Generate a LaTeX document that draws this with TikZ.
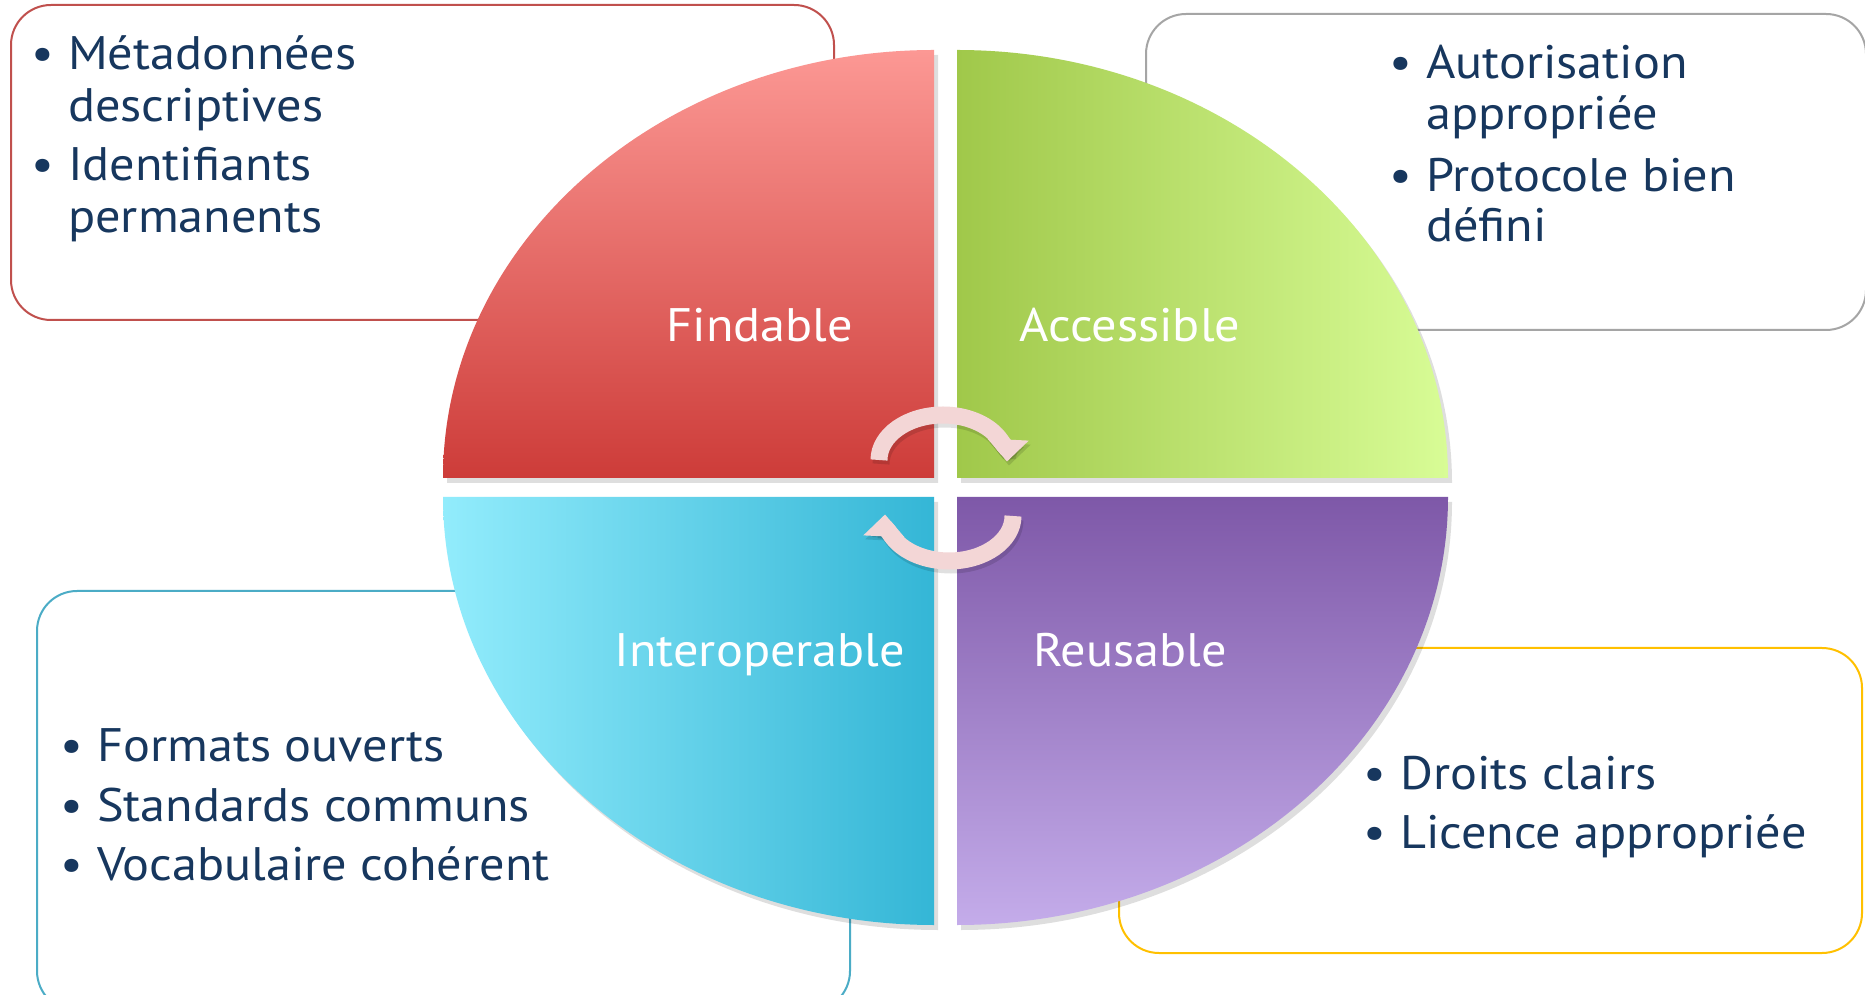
\documentclass[tikz,border=0pt]{standalone}
\usepackage{fontspec}
\setmainfont[FakeStretch=1.07]{PT Sans}
\usetikzlibrary{arrows.meta}
\definecolor{navy}{RGB}{23,55,94}
\definecolor{bred}{RGB}{192,80,77}
\definecolor{bgray}{RGB}{165,165,165}
\definecolor{bblue}{RGB}{75,172,198}
\definecolor{bgold}{RGB}{255,192,0}
\definecolor{Ftop}{RGB}{252,152,148}
\definecolor{Fbot}{RGB}{205,60,57}
\definecolor{Aleft}{RGB}{160,200,74}
\definecolor{Aright}{RGB}{216,252,150}
\definecolor{Ileft}{RGB}{146,236,252}
\definecolor{Iright}{RGB}{52,182,214}
\definecolor{Rtop}{RGB}{126,88,168}
\definecolor{Rbot}{RGB}{196,172,234}
\definecolor{apink}{RGB}{243,214,214}
\begin{document}
\begin{tikzpicture}[x=1pt,y=1pt,
  box/.style={rounded corners=40pt, line width=2pt, fill=white, inner sep=0pt, anchor=south west},
  txt/.style={anchor=base west, inner sep=0pt, text=navy, font=\fontsize{47}{52}\selectfont},
  lbl/.style={anchor=base, inner sep=0pt, text=white, font=\fontsize{47}{52}\selectfont},
  shad/.style={fill=black, opacity=0.13},
  cyc/.style={line width=17pt, draw=apink, -{Triangle[width=40pt,length=22pt]}},
  cycshad/.style={line width=17pt, draw=black, opacity=0.12, -{Triangle[width=40pt,length=22pt]}}]
\clip (0,0) rectangle (1865,994);
\fill[white] (0,0) rectangle (1865,994);
% text boxes
\node[box, draw=bred, minimum width=823pt, minimum height=315pt] (boxF) at (10,673) {};
\node[box, draw=bgray, minimum width=720pt, minimum height=316pt] (boxA) at (1145,663) {};
\node[box, draw=bblue, minimum width=813pt, minimum height=420pt] (boxI) at (36,-18) {};
\node[box, draw=bgold, minimum width=743pt, minimum height=305pt] (boxR) at (1118,40) {};
% shadows of quadrants
\begin{scope}[shift={(4,-5)}]
\fill[shad] (934,516) -- (443,516) arc[start angle=180,end angle=90,x radius=491,y radius=428] -- cycle;
\fill[shad] (957,516) -- (957,944) arc[start angle=90,end angle=0,x radius=491,y radius=428] -- cycle;
\fill[shad] (934,497) -- (934,69) arc[start angle=270,end angle=180,x radius=491,y radius=428] -- cycle;
\fill[shad] (957,497) -- (1448,497) arc[start angle=0,end angle=-90,x radius=491,y radius=428] -- cycle;
\end{scope}
% quadrants
\shade[top color=Ftop, bottom color=Fbot] (934,516) -- (443,516) arc[start angle=180,end angle=90,x radius=491,y radius=428] -- cycle;
\shade[left color=Aleft, right color=Aright] (957,516) -- (957,944) arc[start angle=90,end angle=0,x radius=491,y radius=428] -- cycle;
\shade[left color=Ileft, right color=Iright] (934,497) -- (934,69) arc[start angle=270,end angle=180,x radius=491,y radius=428] -- cycle;
\shade[top color=Rtop, bottom color=Rbot] (957,497) -- (1448,497) arc[start angle=0,end angle=-90,x radius=491,y radius=428] -- cycle;
% labels
\node[lbl] (lF) at (760,652) {Findable};
\node[lbl] (lA) at (1130,652) {Accessible};
\node[lbl] (lI) at (760,328) {Interoperable};
\node[lbl] (lR) at (1130,328) {Reusable};
% cycle arrows
\begin{scope}[shift={(2,-4)}]
\draw[cycshad] (879,534) arc[start angle=180,end angle=-2,x radius=64,y radius=45];
\draw[cycshad] (1013,478) arc[start angle=360,end angle=178,x radius=64,y radius=45];
\end{scope}
\draw[cyc] (879,534) arc[start angle=180,end angle=-2,x radius=64,y radius=45];
\draw[cyc] (1013,478) arc[start angle=360,end angle=178,x radius=64,y radius=45];
% texts
\node[txt] (f1) at (68,924) {\llap{•\hspace{14pt}}Métadonnées};
\node[txt] (f2) at (68,872) {descriptives};
\node[txt] (f3) at (68,813) {\llap{•\hspace{14pt}}Identifiants};
\node[txt] (f4) at (68,761) {permanents};
\node[txt] (a1) at (1426,915) {\llap{•\hspace{14pt}}Autorisation};
\node[txt] (a2) at (1426,864) {appropriée};
\node[txt] (a3) at (1426,802) {\llap{•\hspace{14pt}}Protocole bien};
\node[txt] (a4) at (1426,752) {défini};
\node[txt] (i1) at (97,233) {\llap{•\hspace{14pt}}Formats ouverts};
\node[txt] (i2) at (97,173) {\llap{•\hspace{14pt}}Standards communs};
\node[txt] (i3) at (97,114) {\llap{•\hspace{14pt}}Vocabulaire cohérent};
\node[txt] (r1) at (1400,205) {\llap{•\hspace{14pt}}Droits clairs};
\node[txt] (r2) at (1400,146) {\llap{•\hspace{14pt}}Licence appropriée};
\end{tikzpicture}
\end{document}
